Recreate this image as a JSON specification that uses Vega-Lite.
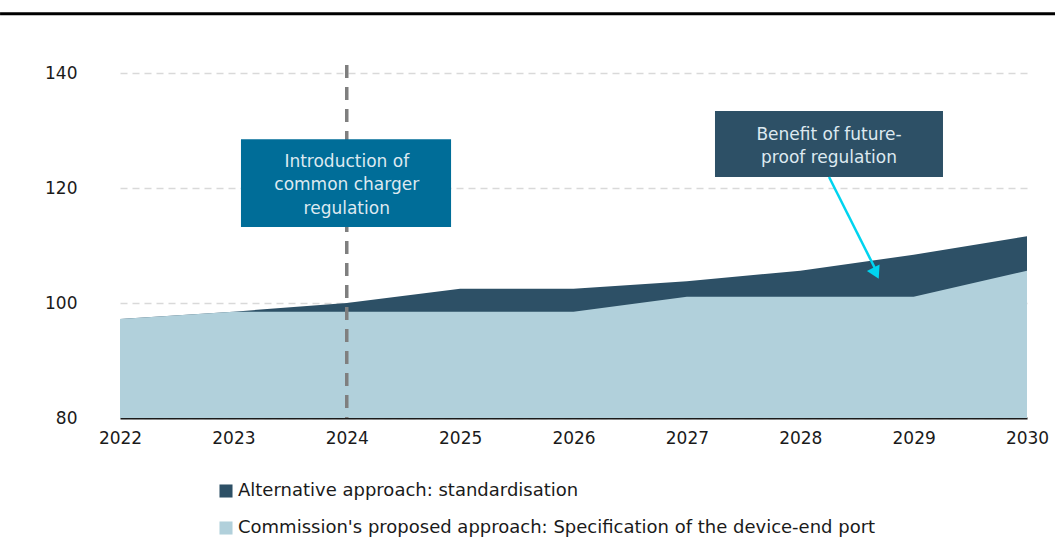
{
  "$schema": "https://vega.github.io/schema/vega-lite/v6.json",
  "width": 907,
  "height": 345,
  "autosize": {"type": "none"},
  "padding": {"left": 120, "top": 73, "right": 28, "bottom": 134},
  "background": "white",
  "config": {
    "view": {"stroke": null},
    "font": "DejaVu Sans"
  },
  "datasets": {
    "series": [
      {"year": 2022, "series": "Alternative approach: standardisation", "value": 97.2},
      {"year": 2023, "series": "Alternative approach: standardisation", "value": 98.5},
      {"year": 2024, "series": "Alternative approach: standardisation", "value": 100.0},
      {"year": 2025, "series": "Alternative approach: standardisation", "value": 102.5},
      {"year": 2026, "series": "Alternative approach: standardisation", "value": 102.5},
      {"year": 2027, "series": "Alternative approach: standardisation", "value": 103.8},
      {"year": 2028, "series": "Alternative approach: standardisation", "value": 105.6},
      {"year": 2029, "series": "Alternative approach: standardisation", "value": 108.4},
      {"year": 2030, "series": "Alternative approach: standardisation", "value": 111.6},
      {"year": 2022, "series": "Commission's proposed approach: Specification of the device-end port", "value": 97.2},
      {"year": 2023, "series": "Commission's proposed approach: Specification of the device-end port", "value": 98.5},
      {"year": 2024, "series": "Commission's proposed approach: Specification of the device-end port", "value": 98.5},
      {"year": 2025, "series": "Commission's proposed approach: Specification of the device-end port", "value": 98.5},
      {"year": 2026, "series": "Commission's proposed approach: Specification of the device-end port", "value": 98.5},
      {"year": 2027, "series": "Commission's proposed approach: Specification of the device-end port", "value": 101.1},
      {"year": 2028, "series": "Commission's proposed approach: Specification of the device-end port", "value": 101.1},
      {"year": 2029, "series": "Commission's proposed approach: Specification of the device-end port", "value": 101.1},
      {"year": 2030, "series": "Commission's proposed approach: Specification of the device-end port", "value": 105.6}
    ],
    "one": [{}]
  },
  "layer": [
    {
      "data": {"name": "series"},
      "transform": [{"filter": "datum.series === 'Alternative approach: standardisation'"}],
      "mark": {"type": "area", "opacity": 1},
      "encoding": {
        "x": {
          "field": "year", "type": "quantitative",
          "scale": {"domain": [2022, 2030], "nice": false, "zero": false},
          "axis": {
            "title": null, "format": "d", "values": [2022, 2023, 2024, 2025, 2026, 2027, 2028, 2029, 2030],
            "ticks": false, "grid": false, "domainColor": "#1a1a1a", "domainWidth": 2,
            "labelFontSize": 17, "labelColor": "#1a1a1a", "labelPadding": 12, "labelFlush": false
          }
        },
        "y": {
          "field": "value", "type": "quantitative", "stack": null,
          "scale": {"domain": [80, 140], "nice": false, "zero": false},
          "axis": {
            "title": null, "values": [80, 100, 120, 140], "ticks": false, "domain": false,
            "grid": true, "gridColor": "#d9d9d9", "gridWidth": 1.5, "gridDash": [7, 5],
            "labelFontSize": 17, "labelColor": "#1a1a1a", "labelPadding": 43
          }
        },
        "color": {
          "field": "series", "type": "nominal",
          "scale": {
            "domain": ["Alternative approach: standardisation", "Commission's proposed approach: Specification of the device-end port"],
            "range": ["#2d5066", "#b1d0db"]
          },
          "legend": {
            "title": null, "orient": "none", "legendX": 97, "legendY": 409,
            "direction": "vertical", "symbolType": "square", "symbolSize": 170,
            "symbolStrokeWidth": 0, "labelFontSize": 18, "labelColor": "#1a1a1a",
            "rowPadding": 19, "labelOffset": 3, "labelLimit": 900
          }
        }
      }
    },
    {
      "data": {"name": "series"},
      "transform": [{"filter": "datum.series !== 'Alternative approach: standardisation'"}],
      "mark": {"type": "area", "opacity": 1},
      "encoding": {
        "x": {"field": "year", "type": "quantitative"},
        "y": {"field": "value", "type": "quantitative", "stack": null},
        "color": {"field": "series", "type": "nominal"}
      }
    },
    {
      "data": {"name": "one"},
      "mark": {"type": "rule", "color": "#7f7f7f", "strokeWidth": 3.5, "strokeDash": [13, 9], "clip": false},
      "encoding": {
        "x": {"datum": 2024},
        "y": {"datum": 141.4},
        "y2": {"datum": 80}
      }
    },
    {
      "data": {"name": "one"},
      "mark": {"type": "rule", "color": "#000000", "strokeWidth": 3, "clip": false},
      "encoding": {
        "x": {"datum": 2020.942},
        "x2": {"datum": 2030.247},
        "y": {"datum": 150.3}
      }
    },
    {
      "data": {"name": "one"},
      "mark": {"type": "rect", "color": "#006d98", "clip": false},
      "encoding": {
        "x": {"datum": 2023.067},
        "x2": {"datum": 2024.92},
        "y": {"datum": 128.5},
        "y2": {"datum": 113.2}
      }
    },
    {
      "data": {"name": "one"},
      "mark": {"type": "text", "text": ["Introduction of", "common charger", "regulation"], "color": "#dde9f0", "fontSize": 17, "lineHeight": 23.5, "align": "center", "baseline": "middle"},
      "encoding": {
        "x": {"datum": 2024},
        "y": {"datum": 124.55}
      }
    },
    {
      "data": {"name": "one"},
      "mark": {"type": "rect", "color": "#2d5066"},
      "encoding": {
        "x": {"datum": 2027.248},
        "x2": {"datum": 2029.259},
        "y": {"datum": 133.39},
        "y2": {"datum": 121.91}
      }
    },
    {
      "data": {"name": "one"},
      "mark": {"type": "text", "text": ["Benefit of future-", "proof regulation"], "color": "#dde9f0", "fontSize": 17, "lineHeight": 23.5, "align": "center", "baseline": "middle"},
      "encoding": {
        "x": {"datum": 2028.254},
        "y": {"datum": 129.3}
      }
    },
    {
      "data": {"name": "one"},
      "mark": {"type": "rule", "color": "#00d4ef", "strokeWidth": 2.5},
      "encoding": {
        "x": {"datum": 2028.254},
        "x2": {"datum": 2028.66},
        "y": {"datum": 121.91},
        "y2": {"datum": 106.0}
      }
    },
    {
      "data": {"name": "one"},
      "mark": {"type": "point", "shape": "triangle", "filled": true, "color": "#00d4ef", "opacity": 1, "size": 200, "angle": 153.4},
      "encoding": {
        "x": {"datum": 2028.66},
        "y": {"datum": 105.5}
      }
    }
  ]
}
